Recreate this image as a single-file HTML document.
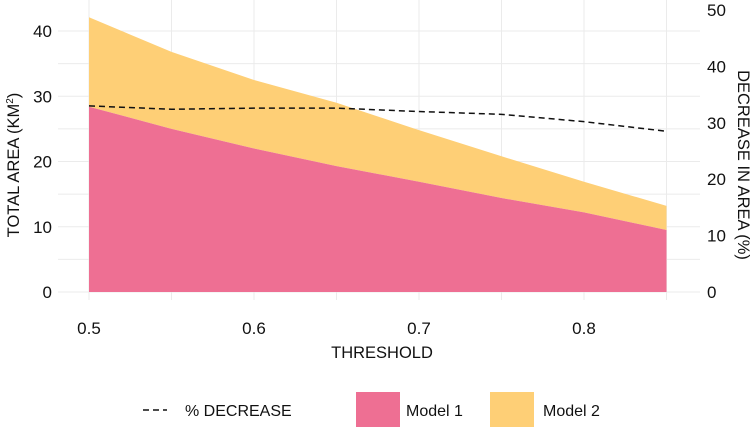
<!DOCTYPE html>
<html><head><meta charset="utf-8"><style>
body{margin:0;background:#fff;font-family:"Liberation Sans",sans-serif}
svg text{font-family:"Liberation Sans",sans-serif;fill:#111}
</style></head><body>
<svg width="754" height="427" id="c" style="position:absolute;left:0;top:0"></svg>
<script>
const thresholds=[0.5,0.55,0.6,0.65,0.7,0.75,0.8,0.85];
const model1=[28.4,25.0,22.0,19.3,16.9,14.4,12.2,9.5];
const model2=[13.7,11.8,10.5,9.7,7.9,6.4,4.7,3.7];
const pctDecrease=[33.0,32.4,32.6,32.6,32.0,31.5,30.2,28.5];
const xTicks=[0.5,0.6,0.7,0.8];
const yTicks=[0,10,20,30,40];
const y2Ticks=[0,10,20,30,40,50];
const NS="http://www.w3.org/2000/svg";
const svgEl=document.getElementById('c');
const X=v=>89+(v-0.5)*1650;
const Y=v=>292-v*6.525;
const Y2=v=>292-v*5.64;
function el(t,a,txt){const e=document.createElementNS(NS,t);for(const k in a)e.setAttribute(k,a[k]);if(txt!=null)e.textContent=txt;svgEl.appendChild(e);return e;}
for(let v=0;v<=40;v+=5){const g=el('line',{x1:58,x2:700,y1:Y(v),y2:Y(v),stroke:'#ebebeb','stroke-width':1});

}
for(let v=0.5;v<=0.851;v+=0.05){const g=el('line',{x1:X(v),x2:X(v),y1:0,y2:300,stroke:'#ebebeb','stroke-width':1});

}
const topPts=thresholds.map((t,i)=>X(t)+','+Y(model1[i]+model2[i])).join(' ');
const midPts=thresholds.map((t,i)=>X(t)+','+Y(model1[i])).join(' ');
const midRev=thresholds.map((t,i)=>X(t)+','+Y(model1[i])).reverse().join(' ');
const a2=el('polygon',{points:topPts+' '+midRev,fill:'#FECF76'});


const a1=el('polygon',{points:X(0.5)+','+Y(0)+' '+midPts+' '+X(0.85)+','+Y(0),fill:'#EE6F93'});


const ln=el('polyline',{points:thresholds.map((t,i)=>X(t)+','+Y2(pctDecrease[i])).join(' '),fill:'none',stroke:'#111','stroke-width':1.5,'stroke-dasharray':'6,4'});


xTicks.forEach(v=>{const t=el('text',{x:X(v),y:334,'font-size':17,'text-anchor':'middle'},v.toFixed(1));

});
yTicks.forEach(v=>{const t=el('text',{x:52,y:Y(v)+6,'font-size':17,'text-anchor':'end'},v);

});
y2Ticks.forEach(v=>{const t=el('text',{x:707,y:Y2(v)+6,'font-size':17,'text-anchor':'start'},v);

});
</script>
<svg width="754" height="427" style="position:absolute;left:0;top:0">
<text x="382" y="358" font-size="16.5" text-anchor="middle">THRESHOLD</text>
<text transform="translate(19,165) rotate(-90)" font-size="16.5" text-anchor="middle">TOTAL AREA (KM<tspan dy="-6" font-size="10">2</tspan><tspan dy="6">)</tspan></text>
<text transform="translate(738,165) rotate(90)" font-size="16.5" text-anchor="middle">DECREASE IN AREA (%)</text>
<line x1="143" y1="410" x2="167" y2="410" stroke="#111" stroke-width="1.5" stroke-dasharray="6,4"/>
<text x="185" y="416" font-size="16">% DECREASE</text>
<rect x="356" y="392" width="44" height="35" fill="#EE6F93"/>
<text x="406" y="416" font-size="16">Model 1</text>
<rect x="490" y="392" width="44" height="35" fill="#FECF76"/>
<text x="543" y="416" font-size="16">Model 2</text>
</svg>
</body></html>
